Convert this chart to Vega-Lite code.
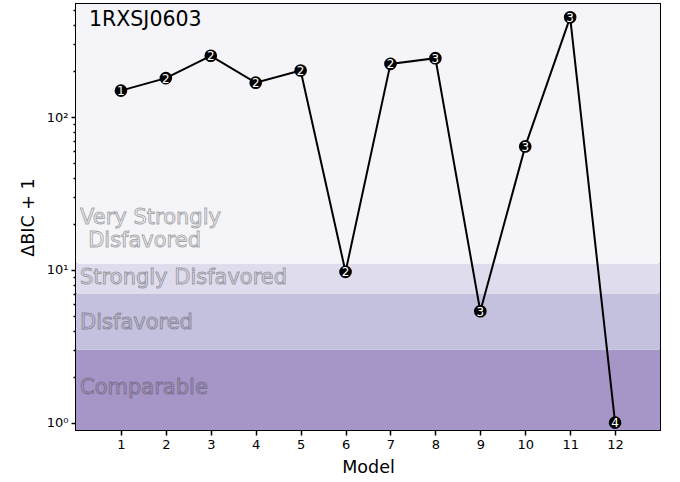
{
  "$schema": "https://vega.github.io/schema/vega-lite/v6.json",
  "width": 584,
  "height": 426,
  "autosize": {"type": "none"},
  "padding": {"left": 76, "top": 4, "right": 20, "bottom": 52},
  "background": "white",
  "config": {
    "font": "DejaVu Sans",
    "view": {"stroke": "#000000", "strokeWidth": 2},
    "axis": {
      "domain": false,
      "grid": false,
      "tickColor": "#000000",
      "tickWidth": 1.5,
      "labelColor": "#000000",
      "labelFont": "DejaVu Sans",
      "labelFontSize": 13,
      "titleFont": "DejaVu Sans",
      "titleFontSize": 17.5,
      "titleFontWeight": "normal",
      "titleColor": "#000000"
    }
  },
  "datasets": {
    "bands": [
      {"band": "Comparable", "lo": 0.5, "hi": 3},
      {"band": "Disfavored", "lo": 3, "hi": 7},
      {"band": "Strongly Disfavored", "lo": 7, "hi": 11},
      {"band": "Very Strongly Disfavored", "lo": 11, "hi": 2000}
    ],
    "bandlabels": [
      {"band": "Comparable", "label": "Comparable", "x": 0.09, "y": 1.68},
      {"band": "Disfavored", "label": "Disfavored", "x": 0.09, "y": 4.46},
      {"band": "Strongly Disfavored", "label": "Strongly Disfavored", "x": 0.09, "y": 8.9},
      {"band": "Very Strongly Disfavored", "label": "Very Strongly", "x": 0.09, "y": 22.0},
      {"band": "Very Strongly Disfavored", "label": "Disfavored", "x": 0.27, "y": 15.4}
    ],
    "models": [
      {"model": 1, "value": 149, "n": "1"},
      {"model": 2, "value": 180, "n": "2"},
      {"model": 3, "value": 252, "n": "2"},
      {"model": 4, "value": 168, "n": "2"},
      {"model": 5, "value": 202, "n": "2"},
      {"model": 6, "value": 9.7, "n": "2"},
      {"model": 7, "value": 223, "n": "2"},
      {"model": 8, "value": 243, "n": "3"},
      {"model": 9, "value": 5.36, "n": "3"},
      {"model": 10, "value": 64.3, "n": "3"},
      {"model": 11, "value": 450, "n": "3"},
      {"model": 12, "value": 1.0, "n": "4"}
    ],
    "title": [{"name": "1RXSJ0603", "x": 0.29, "y": 432}]
  },
  "layer": [
    {
      "data": {"name": "bands"},
      "mark": {"type": "rect", "clip": true},
      "encoding": {
        "y": {
          "field": "lo", "type": "quantitative",
          "scale": {"type": "log", "domain": [0.895, 550], "nice": false},
          "axis": {
            "title": "ΔBIC + 1",
            "titlePadding": 9,
            "values": [1, 2, 3, 4, 5, 6, 7, 8, 9, 10, 20, 30, 40, 50, 60, 70, 80, 90, 100, 200, 300, 400, 500],
            "labelExpr": "datum.value == 1 ? '10⁰' : datum.value == 10 ? '10¹' : datum.value == 100 ? '10²' : ''",
            "labelOverlap": false,
            "labelBound": false,
            "labelPadding": 3,
            "tickSize": {"condition": {"test": "datum.value == 1 || datum.value == 10 || datum.value == 100", "value": 5}, "value": 3}
          }
        },
        "y2": {"field": "hi"},
        "color": {
          "field": "band", "type": "nominal", "legend": null,
          "scale": {
            "domain": ["Comparable", "Disfavored", "Strongly Disfavored", "Very Strongly Disfavored"],
            "range": ["#a695c7", "#c4c1de", "#dfdded", "#f5f5f9"]
          }
        }
      }
    },
    {
      "data": {"name": "bandlabels"},
      "mark": {"type": "text", "align": "left", "baseline": "middle", "fontSize": 21, "stroke": "#444444", "strokeWidth": 1, "strokeOpacity": 0.45},
      "encoding": {
        "x": {"field": "x", "type": "quantitative"},
        "y": {"field": "y", "type": "quantitative"},
        "text": {"field": "label"},
        "color": {
          "field": "band", "type": "nominal", "legend": null,
          "scale": {
            "domain": ["Comparable", "Disfavored", "Strongly Disfavored", "Very Strongly Disfavored"],
            "range": ["#8c7eab", "#b3acd0", "#cbc8dd", "#e2e1ea"]
          }
        }
      }
    },
    {
      "data": {"name": "title"},
      "mark": {"type": "text", "align": "left", "baseline": "middle", "fontSize": 20.5, "color": "#000000"},
      "encoding": {
        "x": {"field": "x", "type": "quantitative"},
        "y": {"field": "y", "type": "quantitative"},
        "text": {"field": "name"}
      }
    },
    {
      "data": {"name": "models"},
      "mark": {"type": "line", "color": "#000000", "strokeWidth": 2},
      "encoding": {
        "x": {
          "field": "model", "type": "quantitative",
          "scale": {"domain": [0, 13], "nice": false, "zero": false},
          "axis": {"title": "Model", "values": [1, 2, 3, 4, 5, 6, 7, 8, 9, 10, 11, 12], "tickSize": 5, "labelPadding": 3, "titlePadding": 7}
        },
        "y": {"field": "value", "type": "quantitative"}
      }
    },
    {
      "data": {"name": "models"},
      "mark": {"type": "point", "filled": true, "color": "#000000", "size": 160, "opacity": 1},
      "encoding": {
        "x": {"field": "model", "type": "quantitative"},
        "y": {"field": "value", "type": "quantitative"}
      }
    },
    {
      "data": {"name": "models"},
      "mark": {"type": "text", "color": "#ffffff", "fontSize": 12, "align": "center", "baseline": "middle", "dy": 0.5},
      "encoding": {
        "x": {"field": "model", "type": "quantitative"},
        "y": {"field": "value", "type": "quantitative"},
        "text": {"field": "n"}
      }
    }
  ]
}
